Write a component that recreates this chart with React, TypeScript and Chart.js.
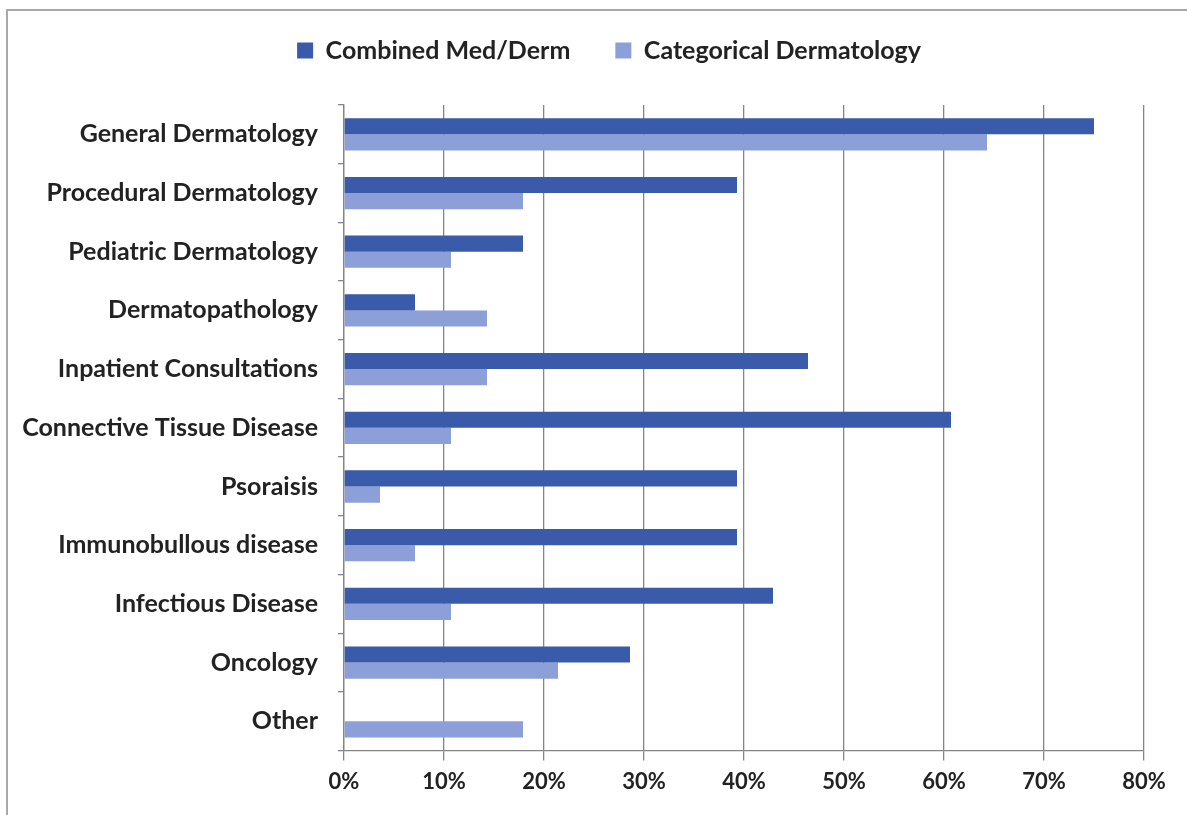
import React, { useEffect, useRef } from "react";
import { Chart, registerables } from "chart.js";

Chart.register(...registerables);

const categories = [
  "General Dermatology",
  "Procedural Dermatology",
  "Pediatric Dermatology",
  "Dermatopathology",
  "Inpatient Consultations",
  "Connective Tissue Disease",
  "Psoraisis",
  "Immunobullous disease",
  "Infectious Disease",
  "Oncology",
  "Other",
];
const combinedMedDerm = [75.0, 39.3, 17.9, 7.1, 46.4, 60.7, 39.3, 39.3, 42.9, 28.6, 0];
const categoricalDermatology = [64.3, 17.9, 10.7, 14.3, 14.3, 10.7, 3.6, 7.1, 10.7, 21.4, 17.9];
const seriesNames = ["Combined Med/Derm", "Categorical Dermatology"];
const xMin = 0;
const xMax = 80;
const xStep = 10;

const FONT = "Lato, 'Open Sans', sans-serif";
const PAD_TOP = -7;
const LEGEND_SHIFT = 37;

const legendPlugin = {
  id: "legendTweaks",
  beforeInit(chart: any) {
    const orig = chart.legend.fit;
    chart.legend.fit = function () {
      orig.bind(chart.legend)();
      this.height = 105 - PAD_TOP;
    };
  },
  afterLayout(chart: any) {
    const lg = chart.legend;
    if (lg) {
      lg.left += LEGEND_SHIFT;
      lg.right += LEGEND_SHIFT;
    }
  },
};

export default function App() {
  const ref = useRef<HTMLCanvasElement | null>(null);
  useEffect(() => {
    document.body.style.margin = "0";
    const chart = new Chart(ref.current as HTMLCanvasElement, {
      type: "bar",
      data: {
        labels: categories,
        datasets: [
          {
            label: seriesNames[0],
            data: combinedMedDerm,
            backgroundColor: "#3A5AAA",
            barPercentage: 1,
            categoryPercentage: 0.55,
          },
          {
            label: seriesNames[1],
            data: categoricalDermatology,
            backgroundColor: "#8C9FD8",
            barPercentage: 1,
            categoryPercentage: 0.55,
          },
        ],
      },
      options: {
        indexAxis: "y",
        responsive: false,
        animation: false,
        layout: { padding: { top: PAD_TOP, right: 43, bottom: 12, left: 0 } },
        plugins: {
          legend: {
            position: "top",
            labels: {
              boxWidth: 16,
              boxHeight: 16,
              padding: 45,
              color: "#222",
              font: { family: FONT, size: 25, weight: "bold" },
            },
          },
          tooltip: { enabled: false },
        },
        scales: {
          x: {
            min: xMin,
            max: xMax,
            ticks: {
              stepSize: xStep,
              callback: (v: any) => v + "%",
              color: "#222",
              padding: 8,
              font: { family: FONT, size: 22, weight: "bold" },
            },
            grid: { color: "#858585", tickLength: 10, lineWidth: 1.3 },
            border: { color: "#858585", width: 1.3 },
          },
          y: {
            grid: {
              drawOnChartArea: false,
              tickLength: 6,
              color: "#858585",
              offset: true,
              lineWidth: 1.3,
            },
            ticks: {
              color: "#222",
              padding: 20,
              font: { family: FONT, size: 25, weight: "bold" },
            },
            border: { color: "#858585", width: 1.3 },
            afterFit: (s: any) => {
              s.width = 344;
            },
          },
        },
      },
      plugins: [legendPlugin],
    } as any);
    return () => chart.destroy();
  }, []);
  return (
    <div style={{ position: "relative", width: 1187, height: 815, overflow: "hidden", background: "#fff" }}>
      <canvas ref={ref} width={1187} height={815} style={{ display: "block" }} />
      <div
        style={{
          position: "absolute",
          left: 6,
          top: 9,
          width: 1200,
          height: 830,
          border: "2px solid #a8a8a8",
          pointerEvents: "none",
        }}
      />
    </div>
  );
}
